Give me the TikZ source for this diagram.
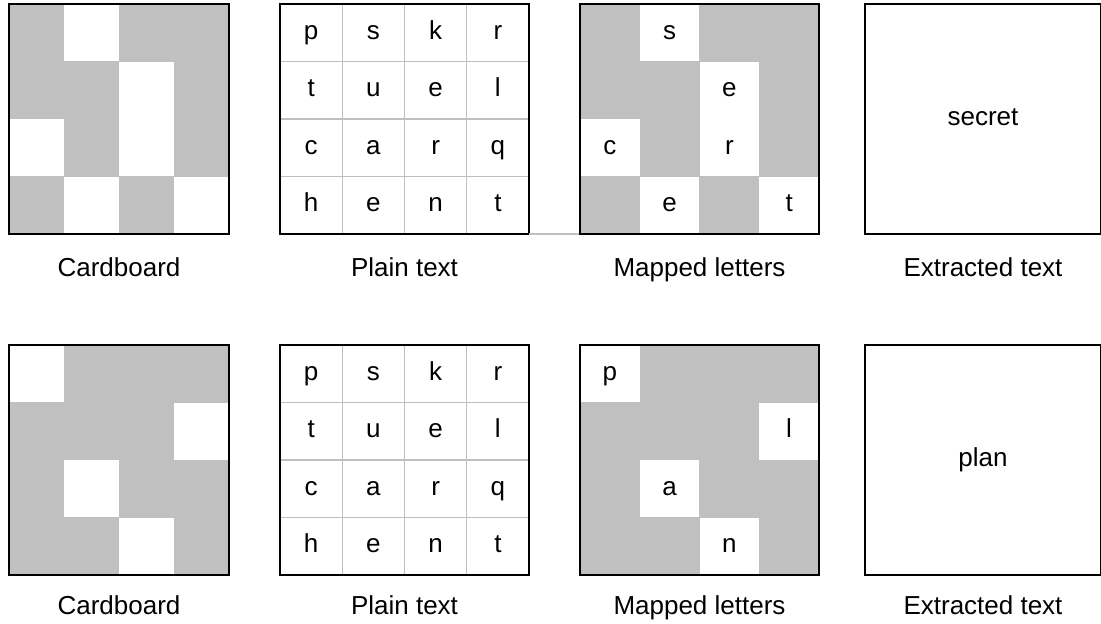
\documentclass[tikz,border=0pt]{standalone}
\usepackage{fontspec}
\setmainfont{Liberation Sans}
\definecolor{board}{HTML}{C0C0C0}
\begin{document}
\begin{tikzpicture}[x=0.75pt,y=-0.75pt,
  font=\fontsize{19.5}{23}\selectfont,
  every node/.style={text height=14pt,text depth=4pt},
  frame/.style={draw=black,line width=1.5pt},
  grid line/.style={draw=board,line width=1pt},
  hole/.style={fill=white,inner sep=0pt,outer sep=0pt,minimum height=43.1pt}]
\useasboundingbox (0,0) rectangle (1101,624);
% cardboards
\fill[board] (9,4) rectangle (229,234);
\foreach \c/\r [count=\i] in {2/1,3/2,1/3,3/3,2/4,4/4}
  \node[hole,minimum width=41.25pt] (cardA\i) at ({9+(\c-0.5)*55},{4+(\r-0.5)*57.5}) {};
\draw[frame] (9,4) rectangle (229,234);
\fill[board] (9,345) rectangle (229,575);
\foreach \c/\r [count=\i] in {1/1,4/2,2/3,3/4}
  \node[hole,minimum width=41.25pt] (cardB\i) at ({9+(\c-0.5)*55},{345+(\r-0.5)*57.5}) {};
\draw[frame] (9,345) rectangle (229,575);
% plain text, same in both rows
\foreach \y/\n in {4/A,345/B} {
  \foreach \k in {1,2,3} {
    \draw[grid line] ({280+\k*62.25},\y) -- ++(0,230);
    \draw[grid line] (280,{\y+\k*57.5}) -- ++(249,0);
  }
  \foreach \line [count=\r] in {{p,s,k,r},{t,u,e,l},{c,a,r,q},{h,e,n,t}}
    \foreach \ch [count=\c] in \line
      \node (plain\n-\c-\r) at ({280+(\c-0.5)*62.25},{\y+(\r-0.5)*57.5}) {\ch};
  \draw[frame] (280,\y) rectangle (529,\y+230);
}
\coordinate (plainA-end) at (529,234);
\coordinate (mapA-start) at (580,234);
\draw[grid line] (plainA-end) -- (mapA-start);
% mapped letters
\fill[board] (580,4) rectangle (819,234);
\foreach \c/\r/\ch [count=\i] in {2/1/s,3/2/e,1/3/c,3/3/r,2/4/e,4/4/t}
  \node[hole,minimum width=44.8pt] (mapA\i) at ({580+(\c-0.5)*59.75},{4+(\r-0.5)*57.5}) {\ch};
\draw[frame] (580,4) rectangle (819,234);
\fill[board] (580,345) rectangle (819,575);
\foreach \c/\r/\ch [count=\i] in {1/1/p,4/2/l,2/3/a,3/4/n}
  \node[hole,minimum width=44.8pt] (mapB\i) at ({580+(\c-0.5)*59.75},{345+(\r-0.5)*57.5}) {\ch};
\draw[frame] (580,345) rectangle (819,575);
% extracted text
\draw[frame] (865,4) rectangle (1101,234);
\node (textA) at (983,119) {secret};
\draw[frame] (865,345) rectangle (1101,575);
\node (textB) at (983,460) {plan};
% captions
\foreach \x/\t [count=\i] in {119/Cardboard,404.5/Plain text,699.5/Mapped letters,983/Extracted text} {
  \node (capA\i) at (\x,270) {\t};
  \node (capB\i) at (\x,608) {\t};
}
\end{tikzpicture}
\end{document}
